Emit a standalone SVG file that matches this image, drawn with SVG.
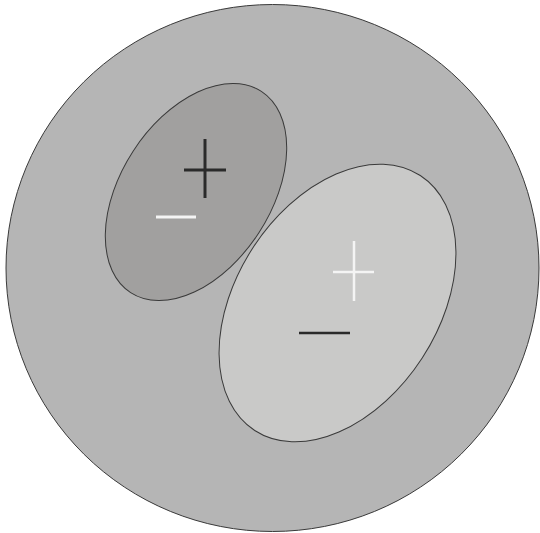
<svg xmlns="http://www.w3.org/2000/svg" width="540" height="533" viewBox="0 0 540 533">
  <style>
    .outline { stroke: #3a3a3a; stroke-width: 1; }
    .dark { stroke: #2a2a2a; fill: none; }
    .light { stroke: #f4f4f4; fill: none; }
  </style>
  <rect x="0" y="0" width="540" height="533" fill="#ffffff"/>
  <g id="outer-circle">
    <ellipse class="outline" cx="272.5" cy="268" rx="266.5" ry="263.5" fill="#b5b5b5"/>
  </g>
  <g id="small-ellipse">
    <ellipse class="outline" cx="196" cy="192" rx="120" ry="75" fill="#a1a09f" transform="rotate(-57 196 192)"/>
    <line class="dark" x1="205" y1="139" x2="205" y2="198" stroke-width="3"/>
    <line class="dark" x1="184" y1="170" x2="226" y2="170" stroke-width="3"/>
    <line class="light" x1="156" y1="217" x2="196" y2="217" stroke-width="3"/>
  </g>
  <g id="large-ellipse">
    <ellipse class="outline" cx="337.5" cy="303" rx="152" ry="101" fill="#c9c9c8" transform="rotate(-57 337.5 303)"/>
    <line class="light" x1="354" y1="241" x2="354" y2="301" stroke-width="2.5"/>
    <line class="light" x1="333" y1="272" x2="374" y2="272" stroke-width="2.5"/>
    <line class="dark" x1="299" y1="333" x2="350" y2="333" stroke-width="2.5" stroke="#151515"/>
  </g>
</svg>
